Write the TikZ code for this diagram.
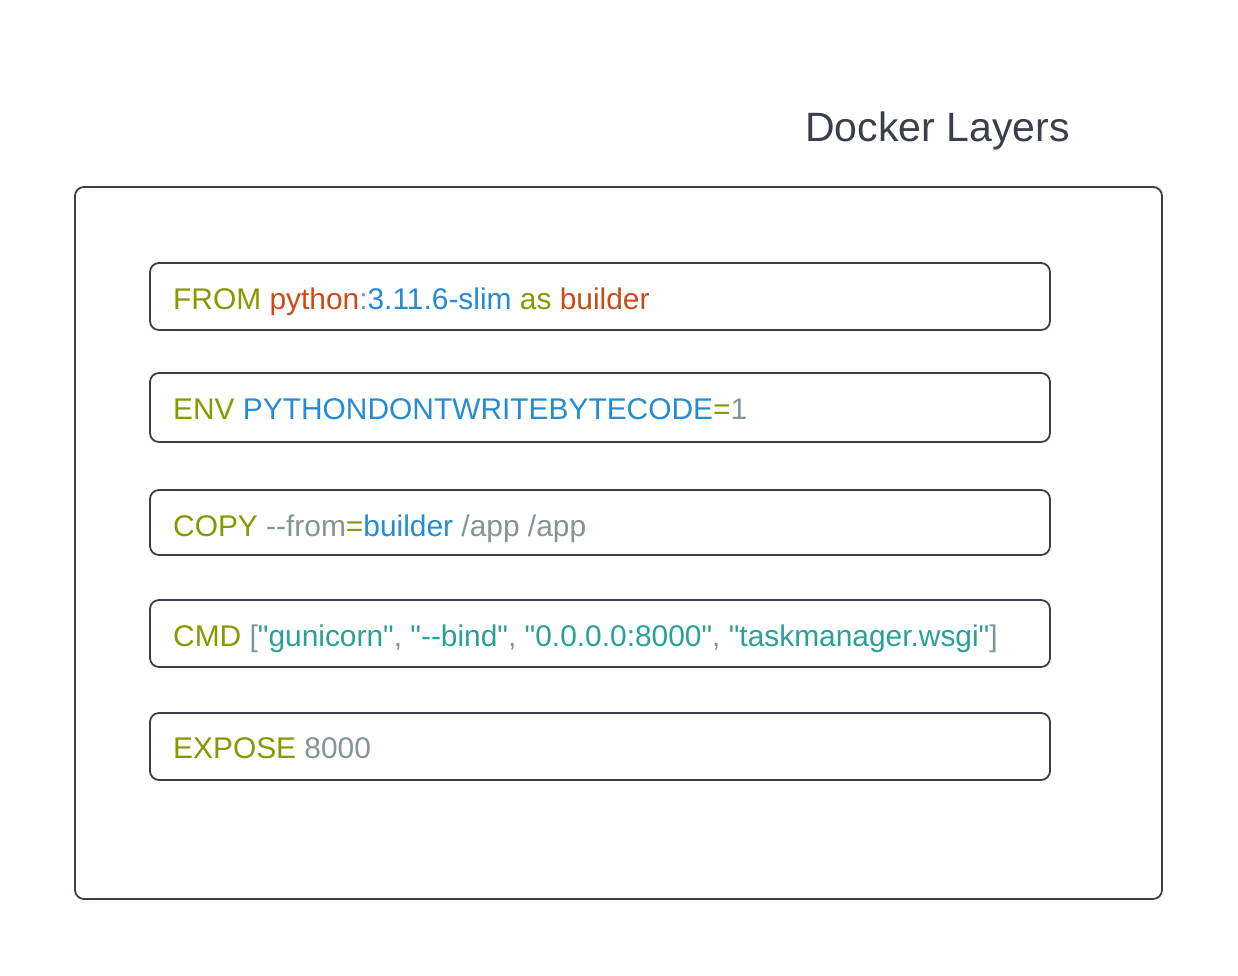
\documentclass[tikz,border=0pt]{standalone}
\usepackage{fontspec}
\setmainfont{Liberation Sans}[Ligatures=TeXOff]
\definecolor{lineC}{HTML}{3A3F4A}
\definecolor{kw}{HTML}{859900}
\definecolor{org}{HTML}{CB4B16}
\definecolor{blu}{HTML}{268BD2}
\definecolor{cya}{HTML}{2AA198}
\definecolor{gry}{HTML}{839496}
\begin{document}
\begin{tikzpicture}[x=1pt,y=-1pt,
  outerbox/.style={draw=lineC,line width=1.8pt,rounded corners=9pt},
  layerbox/.style={draw=lineC,line width=1.8pt,rounded corners=9pt},
  codetxt/.style={anchor=west,inner sep=0pt,font=\fontsize{29.9}{34}\selectfont}]
\useasboundingbox (0,0) rectangle (1238,975);
\fill[white] (0,0) rectangle (1238,975);
\node[anchor=center,inner sep=0pt,text=lineC,font=\fontsize{41}{48}\selectfont] (title) at (937.5,131) {Docker Layers};
\draw[outerbox] (75,187) rectangle (1162,899);
\coordinate (outer) at (618,543);
\draw[layerbox] (150,263) rectangle (1050,330);
\draw[layerbox] (150,373) rectangle (1050,442);
\draw[layerbox] (150,490) rectangle (1050,555);
\draw[layerbox] (150,600) rectangle (1050,667);
\draw[layerbox] (150,713) rectangle (1050,780);
\node[codetxt] (l1) at (173,302) {\textcolor{kw}{FROM} \textcolor{org}{python}\textcolor{gry}{:}\textcolor{blu}{3.11.6-slim} \textcolor{kw}{as} \textcolor{org}{builder}\vphantom{Ay}};
\node[codetxt] (l2) at (173,412) {\textcolor{kw}{ENV} \textcolor{blu}{PYTHONDONTWRITEBYTECODE}\textcolor{kw}{=}\textcolor{gry}{1}\vphantom{Ay}};
\node[codetxt] (l3) at (173,529) {\textcolor{kw}{COPY} \textcolor{gry}{--from}\textcolor{kw}{=}\textcolor{blu}{builder} \textcolor{gry}{/app /app}\vphantom{Ay}};
\node[codetxt] (l4) at (173,639) {\textcolor{kw}{CMD} \textcolor{gry}{[}\textcolor{cya}{"gunicorn"}\textcolor{gry}{,} \textcolor{cya}{"--bind"}\textcolor{gry}{,} \textcolor{cya}{"0.0.0.0:8000"}\textcolor{gry}{,} \textcolor{cya}{"taskmanager.wsgi"}\textcolor{gry}{]}\vphantom{Ay}};
\node[codetxt] (l5) at (173,751) {\textcolor{kw}{EXPOSE} \textcolor{gry}{8000}\vphantom{Ay}};
\end{tikzpicture}
\end{document}
